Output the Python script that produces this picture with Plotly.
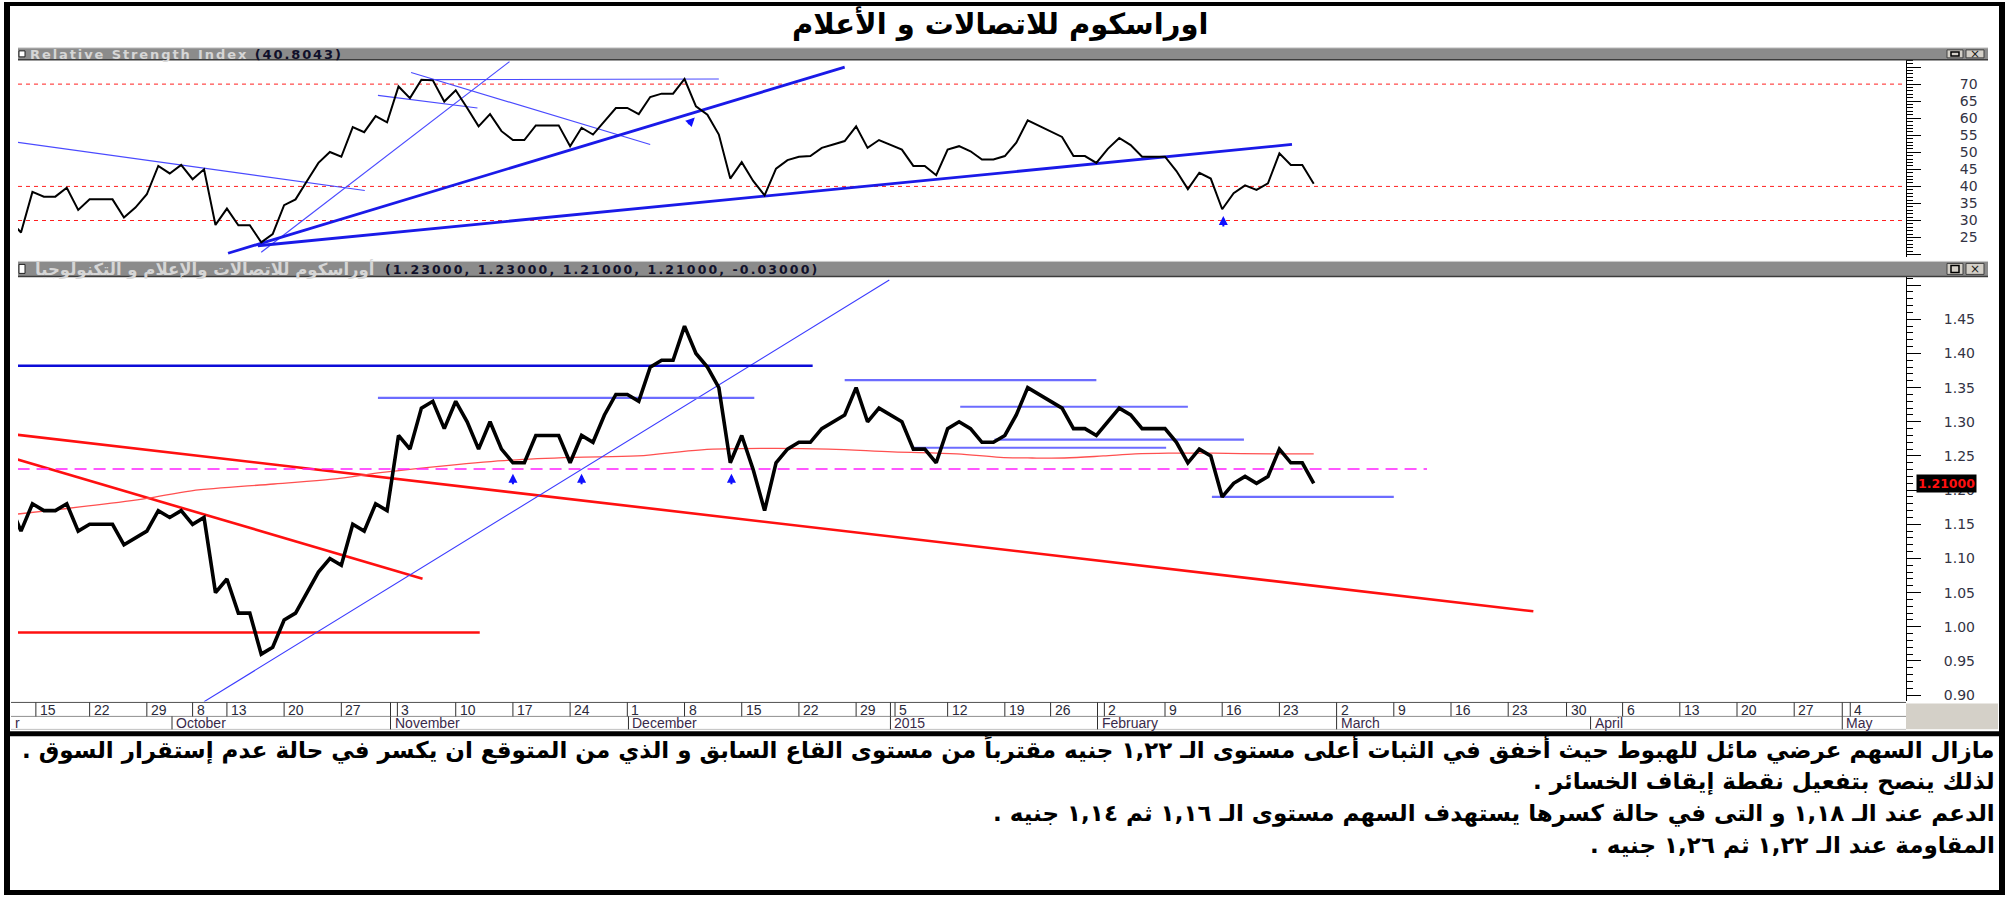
import plotly.graph_objects as go

W, H = 2013, 898

# ---------------- data (session index = trading-day number) ----------------
session = list(range(-1, 114))
close = [1.18, 1.14, 1.18, 1.17, 1.17, 1.18, 1.14, 1.15, 1.15, 1.15, 1.12, 1.13, 1.14, 1.17, 1.16,
         1.17, 1.15, 1.16, 1.05, 1.07, 1.02, 1.02, 0.96, 0.97, 1.01, 1.02, 1.05, 1.08, 1.10, 1.09,
         1.15, 1.14, 1.18, 1.17, 1.28, 1.26, 1.32, 1.33, 1.29, 1.33, 1.30, 1.26, 1.30, 1.26, 1.24,
         1.24, 1.28, 1.28, 1.28, 1.24, 1.28, 1.27, 1.31, 1.34, 1.34, 1.33, 1.38, 1.39, 1.39, 1.44,
         1.40, 1.38, 1.35, 1.24, 1.28, 1.23, 1.17, 1.24, 1.26, 1.27, 1.27, 1.29, 1.30, 1.31, 1.35,
         1.30, 1.32, 1.31, 1.30, 1.26, 1.26, 1.24, 1.29, 1.30, 1.29, 1.27, 1.27, 1.28, 1.31, 1.35,
         1.34, 1.33, 1.32, 1.29, 1.29, 1.28, 1.30, 1.32, 1.31, 1.29, 1.29, 1.29, 1.27, 1.24, 1.26,
         1.25, 1.19, 1.21, 1.22, 1.21, 1.22, 1.26, 1.24, 1.24, 1.21]
rsi = [30.0, 26.5, 38.4, 37.0, 37.0, 39.6, 33.1, 36.2, 36.2, 36.2, 30.9, 33.8, 37.7, 46.0, 43.8,
       46.3, 42.1, 45.0, 28.7, 33.5, 28.6, 28.6, 23.6, 26.0, 34.5, 36.2, 41.6, 46.9, 50.1, 48.7,
       57.4, 55.9, 60.6, 58.8, 69.3, 65.9, 71.3, 71.1, 64.9, 68.2, 63.0, 57.6, 61.2, 56.2, 53.6,
       53.6, 57.9, 57.9, 57.9, 51.8, 57.2, 55.2, 59.1, 63.0, 63.0, 61.2, 66.2, 67.2, 67.2, 71.5,
       63.5, 61.0, 55.2, 42.3, 47.1, 41.6, 37.4, 45.2, 47.7, 48.7, 48.9, 51.3, 52.3, 53.3, 57.6,
       51.3, 53.6, 52.2, 50.8, 46.0, 46.0, 43.3, 50.8, 51.8, 50.3, 47.9, 47.9, 48.9, 52.8, 59.4,
       57.8, 56.2, 54.5, 48.9, 48.9, 46.9, 51.0, 54.2, 52.1, 48.7, 48.7, 48.7, 44.5, 39.2, 44.0,
       42.3, 33.3, 38.0, 40.3, 39.0, 40.9, 49.7, 46.3, 46.3, 40.8]

ma_session = [-0.3, 6.5, 11, 14.9, 22.1, 27.2, 31.6, 37.2, 42.8, 48.3, 53.9, 59.5, 65.1, 70.6,
              76.2, 81.8, 85.6, 88.4, 91.2, 94.6, 97.4, 100.3, 104.2, 109.3, 113]
ma_value = [1.165, 1.178, 1.188, 1.199, 1.209, 1.216, 1.226, 1.236, 1.244, 1.248, 1.250, 1.259,
            1.261, 1.260, 1.256, 1.253, 1.248, 1.247, 1.247, 1.250, 1.253, 1.254, 1.254, 1.253, 1.253]

# analyst drawings: (session0, value0, session1, value1)
rsi_thin_lines = [(-0.3, 52.9, 30.05, 38.8), (21.0, 20.7, 42.7, 76.6), (31.2, 66.7, 39.9, 63.0),
                  (34.1, 73.4, 55.0, 52.3), (35.2, 71.3, 61.0, 71.5)]
rsi_thick_lines = [(18.1, 20.4, 72.0, 75.0), (20.7, 22.6, 111.1, 52.3)]
rsi_levels = [70, 40, 30]
rsi_arrow_up = [(105.1, 31.3)]
rsi_arrow_diag = [(58.9, 60.2)]

price_dark_blue = [(-0.3, 1.382, 69.2, 1.382)]
price_light_blue = [(31.2, 1.335, 64.1, 1.335), (72.0, 1.361, 94.0, 1.361), (82.1, 1.322, 102.0, 1.322),
                    (78.0, 1.262, 100.1, 1.262), (85.1, 1.274, 106.9, 1.274), (104.1, 1.19, 120.0, 1.19)]
price_thin_blue = [(16.0, 0.8904, 75.9, 1.5074)]
price_red = [(-0.3, 1.281, 132.2, 1.0227), (-0.3, 1.2447, 35.1, 1.0704), (-0.3, 0.9916, 40.1, 0.9916)]
price_magenta = [(-0.3, 1.231, 122.9, 1.231)]
price_arrows = [(43.0, 1.224), (49.0, 1.224), (62.1, 1.224)]

rsi_ticks = [20, 25, 30, 35, 40, 45, 50, 55, 60, 65, 70, 75]
rsi_ticktext = ['', '25', '30', '35', '40', '45', '50', '55', '60', '65', '70', '']
price_ticks = [0.90, 0.95, 1.00, 1.05, 1.10, 1.15, 1.20, 1.25, 1.30, 1.35, 1.40, 1.45, 1.50]
price_ticktext = ['0.90', '0.95', '1.00', '1.05', '1.10', '1.15', '1.20', '1.25', '1.30', '1.35',
                  '1.40', '1.45', '']

day_tick_pos = [1.3, 6, 11, 15, 18, 23, 28, 32.3, 32.9, 38, 43, 48, 53, 58, 63, 68, 73, 76.0, 76.4,
                81, 86, 90, 94.1, 94.7, 100, 105, 110, 115, 120, 125, 130, 135.1, 140, 145, 150, 155,
                159.2, 159.9]
day_tick_text = ['15', '22', '29', '8', '13', '20', '27', '', '3', '10', '17', '24', '1', '8', '15',
                 '22', '29', '', '5', '12', '19', '26', '', '2', '9', '16', '23', '2', '9', '16', '23',
                 '30', '6', '13', '20', '27', '', '4']
month_pos = [13.2, 32.3, 53.1, 76.0, 94.1, 115.0, 137.2, 159.2]
month_text = ['October', 'November', 'December', '2015', 'February', 'March', 'April', 'May']

title = 'اوراسكوم للاتصالات و الأعلام'
rsi_header = 'Relative Strength Index'
rsi_header_val = '(40.8043)'
price_header = 'أوراسكوم للاتصالات والإعلام و التكنولوجيا'
price_header_val = '(1.23000, 1.23000, 1.21000, 1.21000, -0.03000)'
last_tag = '1.21000'
comment_lines = [
    'مازال السهم عرضي مائل للهبوط حيث أخفق في الثبات أعلى مستوى الـ ١,٢٢ جنيه مقترباً من مستوى القاع السابق و الذي من المتوقع ان يكسر في حالة عدم إستقرار السوق .',
    'لذلك ينصح بتفعيل نقطة إيقاف الخسائر .',
    'الدعم عند الـ ١,١٨ و التى في حالة كسرها يستهدف السهم مستوى الـ ١,١٦ ثم ١,١٤ جنيه .',
    'المقاومة عند الـ ١,٢٢ ثم ١,٢٦ جنيه .',
]

# ---------------- layout helpers (pixels -> paper) ----------------
def fx(x):
    return x / W


def fy(y):
    return 1 - y / H


PLOT_L, PLOT_R = 18, 1906
RSI_T, RSI_B = 60, 258
PR_T, PR_B = 277, 703
PX_PER_SESSION = 11.44
X0_PIX = 21
xr = [(PLOT_L - X0_PIX) / PX_PER_SESSION, (PLOT_R - X0_PIX) / PX_PER_SESSION]
rsi_range = [30 - (RSI_B - 221) / 3.4175, 70 + (84.3 - RSI_T) / 3.4175]
price_range = [0.90 - (PR_B - 696.7) / 685, 1.45 + (320 - PR_T) / 685]

fig = go.Figure()


def add_segments(segs, xa, ya, color, width, dash=None):
    for s0, v0, s1, v1 in segs:
        fig.add_trace(go.Scatter(x=[s0, s1], y=[v0, v1], mode='lines', xaxis=xa, yaxis=ya,
                                 line=dict(color=color, width=width, dash=dash),
                                 hoverinfo='skip', showlegend=False))


# RSI panel
add_segments(rsi_thin_lines, 'x', 'y', '#4a4aff', 1.2)
add_segments(rsi_thick_lines, 'x', 'y', '#1a1ae8', 2.8)
fig.add_trace(go.Scatter(x=session, y=rsi, mode='lines', xaxis='x', yaxis='y',
                         line=dict(color='black', width=2), hoverinfo='skip', showlegend=False))

# Price panel
add_segments(price_red, 'x2', 'y2', '#ff1010', 2.6)
fig.add_trace(go.Scatter(x=ma_session, y=ma_value, mode='lines', xaxis='x2', yaxis='y2',
                         line=dict(color='#ff5050', width=1.3, shape='spline'),
                         hoverinfo='skip', showlegend=False))
add_segments(price_magenta, 'x2', 'y2', '#ff20ff', 1.6, dash='12px,7px')
add_segments(price_thin_blue, 'x2', 'y2', '#3b3bff', 1.1)
add_segments(price_dark_blue, 'x2', 'y2', '#0c0cd8', 2.4)
add_segments(price_light_blue, 'x2', 'y2', '#6c6cff', 2.2)
fig.add_trace(go.Scatter(x=session, y=close, mode='lines', xaxis='x2', yaxis='y2',
                         line=dict(color='black', width=3.6), hoverinfo='skip', showlegend=False))

shapes = []
annotations = []

for lv in rsi_levels:
    shapes.append(dict(type='line', xref='x domain', yref='y', x0=0, x1=1, y0=lv, y1=lv,
                       line=dict(color='#ff2020', width=1, dash='4px,4px'), layer='below'))


def prect(x0, y0, x1, y1, fill, lc=None, lw=0):
    shapes.append(dict(type='rect', xref='paper', yref='paper', x0=fx(x0), x1=fx(x1),
                       y0=fy(y1), y1=fy(y0), fillcolor=fill,
                       line=dict(color=lc or fill, width=lw), layer='above'))


def pline(x0, y0, x1, y1, color, w=1):
    shapes.append(dict(type='line', xref='paper', yref='paper', x0=fx(x0), x1=fx(x1),
                       y0=fy(y0), y1=fy(y1), line=dict(color=color, width=w), layer='above'))


def ptext(x, y, text, size, color, family='DejaVu Sans', xanchor='center', yanchor='middle', **kw):
    annotations.append(dict(xref='paper', yref='paper', x=fx(x), y=fy(y), xanchor=xanchor,
                            yanchor=yanchor, text=text, showarrow=False,
                            font=dict(size=size, color=color, family=family), **kw))


# header bars
for (t, b) in [(48, 60), (262, 277)]:
    prect(18, t, 1988, b, '#8b8b8b')
    pline(18, t, 1988, t, '#c8c8c8', 1)
    pline(18, b, 1988, b, '#3c3c3c', 1.5)
    prect(19, t + 3, 25, b - 3, 'white', '#202020', 1)
    prect(1947, t + 2, 1963, b - 2, '#d4d0c8', '#404040', 1)
    prect(1951, t + 4, 1959, b - 4, 'rgba(0,0,0,0)', '#000000', 1.5)
    prect(1966, t + 2, 1984, b - 2, '#d4d0c8', '#404040', 1)
    ptext(1975, (t + b) / 2, '×', 12, '#202020')

ptext(28, 54.5, "<b><span style='color:#d6d6d6;letter-spacing:1.9px'>" + rsi_header +
      "</span><span style='letter-spacing:1.9px'> " + rsi_header_val + "</span></b>",
      13, '#10102a', xanchor='left')
ptext(377, 270, '<b>' + price_header + '</b>', 16.5, '#d6d6d6', xanchor='right')
ptext(383, 270, "<b><span style='letter-spacing:2.1px'>" + price_header_val + '</span></b>',
      12.5, '#10102a', xanchor='left')

# date axis rows
prect(11, 704, 1906, 731, 'white')
pline(11, 704, 1906, 704, '#505050', 1)
pline(11, 718, 1906, 718, '#909090', 1)
pline(11, 731, 1906, 731, '#c0c0c0', 1)
prect(1906, 705, 1998, 731, '#d4d0c8')
for p, t in zip(day_tick_pos, day_tick_text):
    shapes.append(dict(type='line', xref='x2', yref='paper', x0=p, x1=p, y0=fy(718), y1=fy(704),
                       line=dict(color='#303030', width=1), layer='above'))
    if t:
        annotations.append(dict(xref='x2', yref='paper', x=p, y=fy(711.5), xanchor='left', yanchor='middle',
                                xshift=2, text=t, showarrow=False,
                                font=dict(size=14, color='#2a2a3a', family='Liberation Sans')))
for p, t in zip(month_pos, month_text):
    shapes.append(dict(type='line', xref='x2', yref='paper', x0=p, x1=p, y0=fy(731), y1=fy(718),
                       line=dict(color='#303030', width=1), layer='above'))
    annotations.append(dict(xref='x2', yref='paper', x=p, y=fy(725), xanchor='left', yanchor='middle',
                            xshift=2, text=t, showarrow=False,
                            font=dict(size=14, color='#3a2a4a', family='Liberation Sans')))
ptext(22, 725, 'r', 14, '#3a2a4a', family='Liberation Sans', xanchor='right')

# outer frame
prect(0, 0, W, 2, 'white')
prect(4, 2, 2005, 6, 'black')
prect(4, 2, 10, 897, 'black')
prect(1999, 2, 2005, 897, 'black')
prect(4, 733, 2005, 738, 'black')
prect(4, 892, 2005, 897, 'black')

# arrows
arrow_style = dict(showarrow=True, arrowhead=2, arrowsize=0.9, arrowwidth=2, arrowcolor='#1010ff',
                   text='', standoff=0, startstandoff=0)
for s, v in price_arrows:
    annotations.append(dict(xref='x2', yref='y2', x=s, y=v, ax=0, ay=12, **arrow_style))
for s, v in rsi_arrow_up:
    annotations.append(dict(xref='x', yref='y', x=s, y=v, ax=0, ay=12, **arrow_style))
for s, v in rsi_arrow_diag:
    annotations.append(dict(xref='x', yref='y', x=s, y=v, ax=-8, ay=8, **arrow_style))

# last price tag
annotations.append(dict(xref='paper', yref='y2', x=fx(1946), y=close[-1], xanchor='center', yanchor='middle',
                        text='<b>' + last_tag + '</b>', showarrow=False, bgcolor='black', borderpad=1,
                        font=dict(size=12.5, color='#ff1010', family='DejaVu Sans')))

# title and comments
ptext(1000, 24, '<b>' + title + '</b>', 29, 'black')
for i, line in enumerate(comment_lines):
    ptext(1997, 751 + i * 32, '<b>' + line + '\u200f</b>', 23, 'black', xanchor='right')

axis_common = dict(showgrid=False, zeroline=False)
fig.update_layout(
    width=W, height=H, margin=dict(l=0, r=0, t=0, b=0), autosize=False,
    paper_bgcolor='white', plot_bgcolor='white', showlegend=False,
    xaxis=dict(domain=[fx(PLOT_L), fx(PLOT_R)], range=xr, anchor='y', visible=False, **axis_common),
    xaxis2=dict(domain=[fx(PLOT_L), fx(PLOT_R)], range=xr, anchor='y2', matches='x', visible=False,
                **axis_common),
    yaxis=dict(domain=[fy(RSI_B), fy(RSI_T)], range=rsi_range, anchor='x', side='right',
               tickvals=rsi_ticks, ticktext=rsi_ticktext, ticks='outside', ticklen=14, tickwidth=1,
               tickcolor='black', showline=True, linecolor='black', linewidth=1,
               minor=dict(dtick=1, ticks='outside', ticklen=6, tickcolor='black', tickwidth=1),
               ticklabelstandoff=36, tickfont=dict(size=14, color='#333344', family='DejaVu Sans'),
               **axis_common),
    yaxis2=dict(domain=[fy(PR_B), fy(PR_T)], range=price_range, anchor='x2', side='right',
                tickvals=price_ticks, ticktext=price_ticktext, ticks='outside', ticklen=14, tickwidth=1,
                tickcolor='black', showline=True, linecolor='black', linewidth=1,
                minor=dict(dtick=0.01, tick0=0, ticks='outside', ticklen=6, tickcolor='black', tickwidth=1),
                ticklabelstandoff=20, tickfont=dict(size=14, color='#333344', family='DejaVu Sans'),
                **axis_common),
    shapes=shapes, annotations=annotations,
)

fig.write_html('out.html')
